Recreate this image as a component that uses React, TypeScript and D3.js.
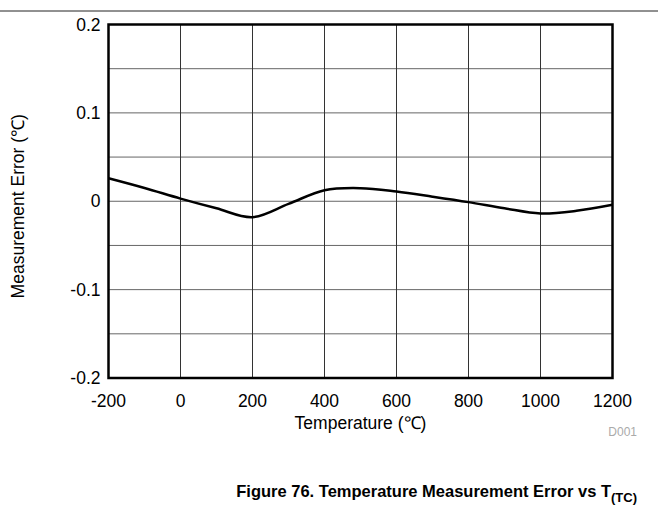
import React from "react";
import * as d3 from "d3";

const temps = [-200, -100, 0, 100, 200, 300, 400, 500, 600, 700, 800, 900, 1000, 1100, 1200];
const errors = [0.026, 0.015, 0.003, -0.008, -0.018, -0.003, 0.0125, 0.0148, 0.011, 0.0052, -0.001, -0.008, -0.0138, -0.0108, -0.004];
const xTicks = [-200, 0, 200, 400, 600, 800, 1000, 1200];
const yTicks = [-0.2, -0.1, 0, 0.1, 0.2];
const yGrid = [-0.2, -0.15, -0.1, -0.05, 0, 0.05, 0.1, 0.15, 0.2];

export default function App() {
  const W = 658, H = 522;
  const L = 108.5, R = 612.5, T = 24.5, B = 378;
  const x = d3.scaleLinear().domain([-200, 1200]).range([L, R]);
  const y = d3.scaleLinear().domain([-0.2, 0.2]).range([B, T]);
  const line = d3
    .line<number>()
    .x((_, i) => x(temps[i]))
    .y((d) => y(d))
    .curve(d3.curveCatmullRom.alpha(0.5));
  const font = "Liberation Sans, Arial, sans-serif";
  return (
    <svg width={W} height={H} style={{ position: "absolute", left: 0, top: 0 }} fontFamily={font}>
      <rect width={W} height={H} fill="#fff" />
      <line x1={0} x2={W} y1={11} y2={11} stroke="#222" strokeWidth={1} />
      {yGrid.map((v) => (
        <line key={"h" + v} x1={L} x2={R} y1={y(v)} y2={y(v)} stroke="#666" strokeWidth={1} />
      ))}
      {xTicks.map((v) => (
        <line key={"v" + v} x1={x(v)} x2={x(v)} y1={T} y2={B} stroke="#333" strokeWidth={1} />
      ))}
      <path d={line(errors) || ""} fill="none" stroke="#000" strokeWidth={2.5} />
      <rect x={L} y={T} width={R - L} height={B - T} fill="none" stroke="#000" strokeWidth={2.5} />
      {yTicks.map((v) => (
        <text key={"yt" + v} x={L - 8} y={y(v) + 6} textAnchor="end" fontSize={17.5}>
          {v === 0 ? "0" : d3.format(".1f")(v).replace("−", "-")}
        </text>
      ))}
      {xTicks.map((v) => (
        <text key={"xt" + v} x={x(v)} y={B + 29} textAnchor="middle" fontSize={17.5}>
          {String(v)}
        </text>
      ))}
      <text x={(L + R) / 2} y={B + 51} textAnchor="middle" fontSize={17.5}>Temperature (℃)</text>
      <text transform={`translate(24, ${(T + B) / 2 + 5}) rotate(-90)`} textAnchor="middle" fontSize={17.5}>
        Measurement Error (℃)
      </text>
      <text x={637} y={436} textAnchor="end" fontSize={12} fill="#aaa">D001</text>
      <text x={637} y={497} textAnchor="end" fontSize={16.5} fontWeight="bold">
        Figure 76. Temperature Measurement Error vs T
        <tspan fontSize={13} dy={5}>(TC)</tspan>
      </text>
    </svg>
  );
}
